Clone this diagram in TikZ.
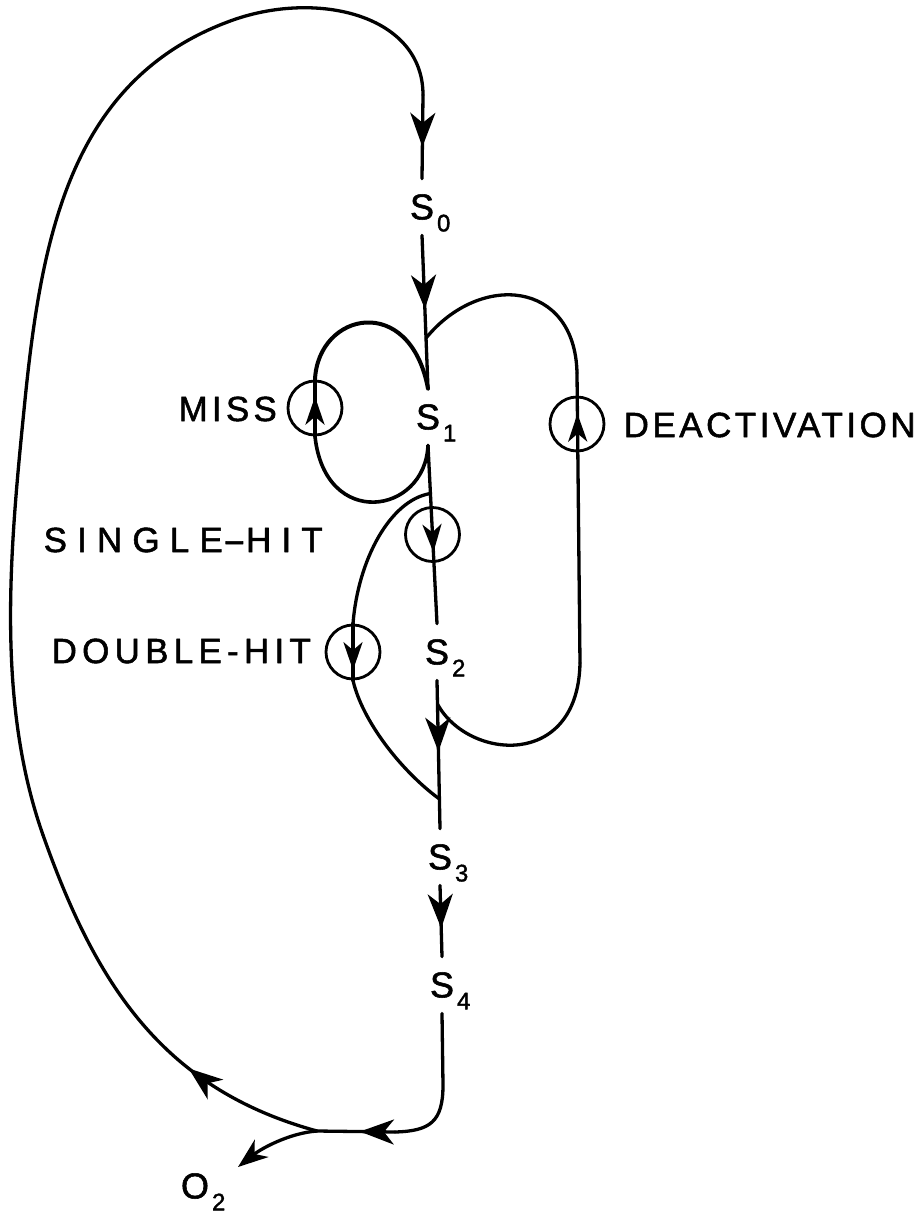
\documentclass[tikz,border=0pt]{standalone}
\usepackage{fontspec}
\usepackage{graphicx}
\setmainfont[FakeBold=1.5]{Liberation Sans}
\usetikzlibrary{arrows.meta,decorations.markings,calc}
\newcommand\Sname[2]{#1\rlap{\hspace{3pt}\raisebox{-12pt}[0pt][0pt]{\fontsize{24}{24}\selectfont #2}}}
\tikzset{
  mid/.style={postaction={decorate,decoration={markings,mark=at position #1 with {\arrow{Stealth[length=34pt,width=25pt,inset=10pt]}}}}},
  smid/.style={postaction={decorate,decoration={markings,mark=at position #1 with {\arrow{Stealth[length=28pt,width=19pt,inset=8pt]}}}}},
  st/.style={inner xsep=0pt,inner ysep=14pt,font=\fontsize{36}{40}\selectfont},
  lab/.style={inner sep=0pt,anchor=west,font=\fontsize{35}{40}\selectfont},
  ring/.style={circle,draw,line width=2.8pt,minimum size=54pt,inner sep=0pt},
}
\begin{document}
\begin{tikzpicture}[x=1pt,y=-1pt,line width=3.3pt,line cap=round,line join=round]
\path[use as bounding box] (0,0) rectangle (923,1216);
% state nodes
\node[st] (S0) at (422,207) {\Sname{S}{0}};
\node[st] (S1) at (428,417) {\Sname{S}{1}};
\node[st] (S2) at (437,652) {\Sname{S}{2}};
\node[st] (S3) at (440,857) {\Sname{S}{3}};
\node[st] (S4) at (442,985) {\Sname{S}{4}};
\node[st] (O2) at (195,1186) {\Sname{O}{2}};
% labels
\node[lab] (miss) at (177,409) {\addfontfeatures{LetterSpace=12}MISS};
\node[lab] (deact) at (622,425) {\addfontfeatures{LetterSpace=10}DEACTIVATION};
\node[lab] (single) at (42,540) {\addfontfeatures{LetterSpace=29}SINGLE\scalebox{2}[1]{-}HIT};
\node[lab] (double) at (50,651) {\addfontfeatures{LetterSpace=15}DOUBLE-HIT};
% circles
\node[ring] (cm) at (315,408) {};
\node[ring] (cd) at (577,424) {};
\node[ring] (cs) at ($(S1.south)!0.5!(S2.north)$) {};
\node[ring] (cdh) at (353,652) {};
% coordinates
\coordinate (a0) at (423,95);
\coordinate (L1) at (43,835);
\coordinate (L2) at (25,400);
\coordinate (L3) at (233,20);
\coordinate (J) at (317,1131);
\coordinate (s4c) at (443,1085);
\coordinate (ar) at (395,1132);
\coordinate (o2tip) at (238,1167);
\coordinate (dj) at ($(S0.south)!0.67!(S1.north)$);
\coordinate (dh) at ($(S1.south)!0.27!(S2.north)$);
\coordinate (dj2) at ($(S2.south)!0.16!(S3.north)$);
\coordinate (dh2) at ($(S2.south)!0.8!(S3.north)$);
\coordinate (dbot) at (580,663);
\coordinate (dtop) at (577,373);
% main chain
\draw[mid=0.62] (a0) -- (S0.north);
\draw[mid=0.48] (S0.south) -- (S1.north);
\draw[smid=0.6] (S1.south) -- (S2.north);
\draw[mid=0.48] (S2.south) -- (S3.north);
\draw[mid=0.6] (S3.south) -- (S4.north);
\draw (S4.south) -- (s4c) .. controls (443,1122) and (430,1131) .. (ar);
\draw[mid=0.45] (ar) -- (J);
% big return loop
\draw[mid=0.34] (J) .. controls (163,1089) and (96,985) .. (L1);
\draw (L1) .. controls (-5,699) and (10.5,544) .. (L2) .. controls (42,231) and (73,77) .. (L3) .. controls (318,-10) and (423,15) .. (a0);
% O2 branch
\draw[-{Stealth[length=30pt,width=22pt,inset=9pt]}] (J) .. controls (290,1133) and (262,1148) .. (o2tip);
% miss loop
\draw[line width=3.6pt] (S1.south) .. controls (425,515) and (325,530) .. (cm.south);
\draw[smid=0.7] (cm.south) -- (cm.north);
\draw[line width=4pt] (cm.north) .. controls (318,312) and (410,292) .. (S1.north);
% double hit
\draw (dh) .. controls (390,500) and (358,560) .. (cdh.north);
\draw[smid=0.82] (cdh.north) -- (cdh.south);
\draw (cdh.south) .. controls (362,720) and (400,770) .. (dh2);
% deactivation
\draw (dj2) .. controls (468,760) and (578,770) .. (dbot);
\draw[smid=0.86] (dbot) -- (dtop);
\draw (dtop) .. controls (575,280) and (480,272) .. (dj);
\end{tikzpicture}
\end{document}
